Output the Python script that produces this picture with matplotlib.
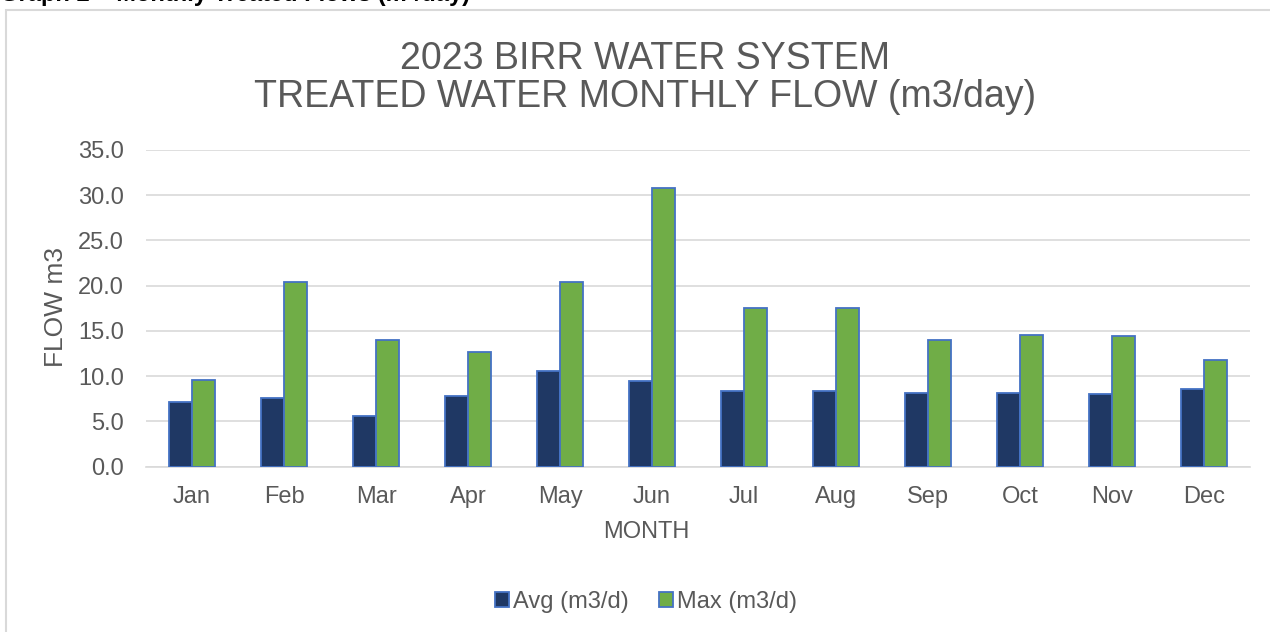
import matplotlib.pyplot as plt
import numpy as np
from matplotlib.patches import Rectangle

plt.rcParams['font.family'] = ['Liberation Sans', 'DejaVu Sans']

# monthly flows
months = ['Jan', 'Feb', 'Mar', 'Apr', 'May', 'Jun', 'Jul', 'Aug', 'Sep', 'Oct', 'Nov', 'Dec']
avg_flow = [7.2, 7.6, 5.6, 7.8, 10.6, 9.5, 8.35, 8.35, 8.2, 8.2, 8.0, 8.6]
max_flow = [9.55, 20.45, 14.0, 12.7, 20.45, 30.8, 17.55, 17.55, 13.95, 14.6, 14.45, 11.75]

txt = '#595959'
grid = '#D9D9D9'
edge = '#4472C4'

fig = plt.figure(figsize=(12.7, 6.32), dpi=100)

# outer chart frame
fig.patches.append(Rectangle((6/1270, -0.01), 1.02, 1 - 10/632 + 0.01, transform=fig.transFigure,
                             fill=False, edgecolor=grid, linewidth=1.5, clip_on=False))
# header of the page, cut off at the top
fig.text(0.0, 1 - 1.5/632, 'Graph 2 \u2013 Monthly Treated Flows (m\u00b3/day)', fontsize=17,
         fontweight='bold', color='black', ha='left', va='baseline')

ax = fig.add_axes([146/1270, 1 - 466.7/632, (1250 - 146)/1270, (466.7 - 150)/632])
x = np.arange(len(months))
w = 0.245
ax.bar(x - w/2, avg_flow, w, color='#1F3864', edgecolor=edge, linewidth=1.3, label='Avg (m3/d)', zorder=3)
ax.bar(x + w/2, max_flow, w, color='#70AD47', edgecolor=edge, linewidth=1.3, label='Max (m3/d)', zorder=3)

ax.set_xlim(-0.5, 11.5)
ax.set_ylim(0, 35)
ax.set_yticks(np.arange(0, 35.1, 5))
ax.set_yticklabels(['%.1f' % v for v in np.arange(0, 35.1, 5)])
ax.set_xticks(x)
ax.set_xticklabels(months)
ax.tick_params(length=0, labelsize=17, colors=txt)
ax.tick_params(axis='x', pad=14)
ax.tick_params(axis='y', pad=16)
ax.yaxis.grid(True, color=grid, linewidth=1.2, zorder=0)
for s in ['top', 'right', 'left']:
    ax.spines[s].set_visible(False)
ax.spines['bottom'].set_color(grid)
ax.spines['bottom'].set_linewidth(1.2)

fig.text(646/1270, 1 - 532/632, 'MONTH', fontsize=17, color=txt, ha='center', va='center')
fig.text(56/1270, 1 - 307/632, 'FLOW m3', rotation=90, fontsize=19, color=txt, ha='center', va='center')
fig.text(645/1270, 1 - 78/632, '2023 BIRR WATER SYSTEM\nTREATED WATER MONTHLY FLOW (m3/day)',
         fontsize=27, color=txt, ha='center', va='center', linespacing=1.05)

fig.legend(loc='center', bbox_to_anchor=(646/1270, 1 - 602/632), ncol=2, frameon=False,
           fontsize=17, labelcolor=txt, handlelength=0.6, handleheight=0.6, handletextpad=0.15,
           columnspacing=1.3)

fig.savefig('out.png', dpi=100)
